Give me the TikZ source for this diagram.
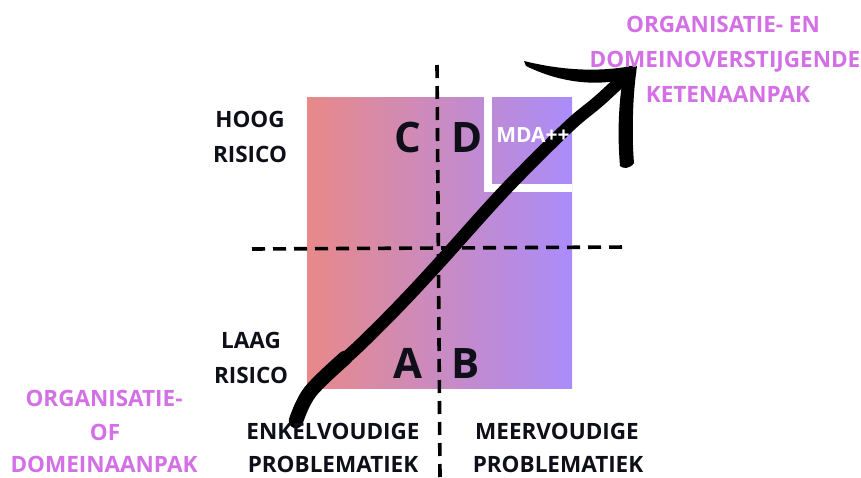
\documentclass[tikz,border=0pt]{standalone}
\usepackage{fontspec}
\setmainfont{Open Sans}
\definecolor{gradL}{RGB}{232,137,137}
\definecolor{gradR}{RGB}{170,140,250}
\definecolor{pinklab}{RGB}{212,112,230}
\definecolor{darktxt}{RGB}{15,15,25}
\begin{document}
\begin{tikzpicture}[x=1pt,y=-1pt,
  lab/.style={inner sep=0pt, anchor=base, font=\fontsize{22.5}{27}\selectfont\bfseries, text=darktxt},
  plab/.style={lab, text=pinklab},
  quad/.style={inner sep=0pt, anchor=base, font=\fontsize{42}{50}\selectfont\bfseries, text=darktxt},
  divider/.style={line width=3.6pt, dash pattern=on 13pt off 8pt, black},
  brush/.style={line width=12.5pt, line cap=round, line join=round, black}]
\useasboundingbox (0,0) rectangle (861,477);
\fill[white] (0,0) rectangle (861,477);
% gradient field
\shade[left color=gradL, right color=gradR] (307,97) rectangle (572,388);
% white frame of MDA++ box
\fill[white] (484,97) rectangle (492,192);
\fill[white] (484,184) rectangle (572,192);
% dashed axes
\coordinate (vtop) at (437,65);
\coordinate (vbot) at (440,477);
\coordinate (hleft) at (252,249);
\coordinate (hright) at (628,247);
\draw[divider] (vtop) -- (vbot);
\draw[divider] (hleft) -- (hright);
% arrow
\coordinate (start) at (296,421);
\coordinate (tip) at (630,72);
\draw[brush] plot[smooth, tension=0.6] coordinates {(start) (310,392) (360,345) (400,305) (440,262) (505,190) (567,128) (600,100) (tip)};
\draw[brush, line width=14.5pt] plot[smooth, tension=0.6] coordinates {(start) (310,392) (345,358)};
\fill[black] (524,61) .. controls (560,70) and (600,73) .. (636,65) -- (635,77) .. controls (600,87) and (563,84) .. (526,66) -- cycle;
\fill[black] (624,70) -- (637,66) .. controls (632,100) and (632,140) .. (634,163) .. controls (630,169) and (623,169) .. (620,166) .. controls (617,130) and (619,100) .. (624,70) -- cycle;
% quadrant letters
\node[quad] (C) at (408,152) {C};
\node[quad] (D) at (467,152) {D};
\node[quad] (A) at (408,378) {A};
\node[quad] (B) at (466,378) {B};
\node[inner sep=0pt, anchor=base, font=\fontsize{21}{25}\selectfont\bfseries, text=white] (mda) at (533,142) {MDA++};
% axis labels
\node[lab] (hoog) at (250,127) {HOOG};
\node[lab] (risicoH) at (250,162) {RISICO};
\node[lab] (laag) at (251,348) {LAAG};
\node[lab] (risicoL) at (251,383) {RISICO};
\node[lab] (enkel) at (333,439) {ENKELVOUDIGE};
\node[lab] (probA) at (333,472) {PROBLEMATIEK};
\node[lab] (meer) at (557,439) {MEERVOUDIGE};
\node[lab] (probB) at (558,472) {PROBLEMATIEK};
% pink labels
\node[plab] (org1) at (723,32) {ORGANISATIE- EN};
\node[plab] (org2) at (725,67) {DOMEINOVERSTIJGENDE};
\node[plab] (org3) at (728,102) {KETENAANPAK};
\node[plab] (loc1) at (104,406) {ORGANISATIE-};
\node[plab] (loc2) at (105,440) {OF};
\node[plab] (loc3) at (104,472) {DOMEINAANPAK};
\end{tikzpicture}
\end{document}
